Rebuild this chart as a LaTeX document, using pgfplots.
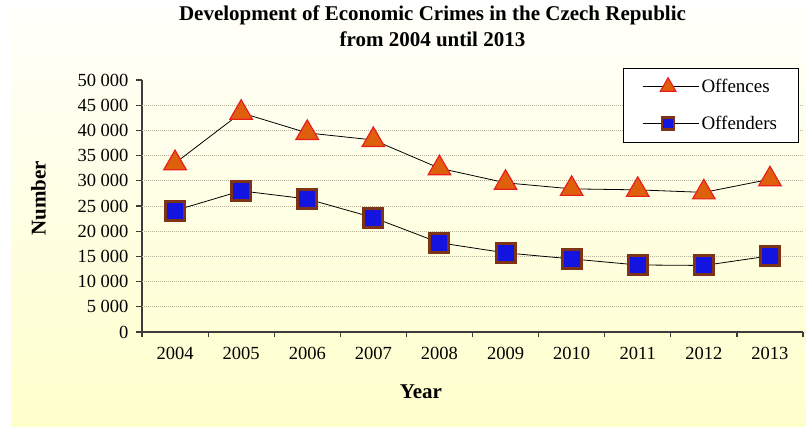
\documentclass[border=0pt]{standalone}
\usepackage{pgfplots}
\pgfplotsset{compat=1.18}
\usepackage{fontspec}
\setmainfont{Liberation Serif}

\definecolor{bgtop}{RGB}{255,255,250}
\definecolor{bgbot}{RGB}{255,255,204}
\definecolor{gridc}{RGB}{185,178,155}
\definecolor{axisc}{RGB}{60,60,60}
\definecolor{trifill}{RGB}{222,96,12}
\definecolor{triedge}{RGB}{235,30,30}
\definecolor{sqfill}{RGB}{20,20,225}
\definecolor{sqedge}{RGB}{125,52,22}

\begin{document}
\begin{tikzpicture}
% page and chart area background
\useasboundingbox (0pt,0pt) rectangle (806pt,427pt);
\fill[white] (0pt,0pt) rectangle (806pt,427pt);
\shade[top color=bgtop, bottom color=bgbot] (11pt,0pt) rectangle (806pt,419pt);

\node[anchor=base, font=\fontsize{21}{25}\selectfont\bfseries] at (432.5pt,406pt)
  {Development of Economic Crimes in the Czech Republic};
\node[anchor=base, font=\fontsize{21}{25}\selectfont\bfseries] at (432.5pt,380pt)
  {from 2004 until 2013};

\begin{axis}[
    at={(142pt,95pt)}, anchor=south west,
    width=661pt, height=252pt, scale only axis,
    xmin=-0.5, xmax=9.5, ymin=0, ymax=50000,
    scaled y ticks=false,
    axis lines*=left,
    axis line style={axisc, line width=1.2pt},
    tick style={axisc, line width=1.2pt},
    tick align=outside,
    major tick length=6pt, minor tick length=5pt,
    xtick={0,...,9},
    xticklabels={2004,2005,2006,2007,2008,2009,2010,2011,2012,2013},
    major x tick style={draw=none},
    minor xtick={-0.5,0.5,...,9.5},
    ytick={0,5000,...,50000},
    yticklabels={0,5 000,10 000,15 000,20 000,25 000,30 000,35 000,40 000,45 000,50 000},
    extra y ticks={5000,10000,...,45000},
    extra y tick labels={},
    extra y tick style={grid=major, major tick length=0pt},
    major grid style={gridc, dash pattern=on 1pt off 1pt, line width=0.8pt},
    ticklabel style={font=\fontsize{18.5}{22}\selectfont},
    xticklabel style={yshift=-6pt},
    yticklabel style={xshift=-4pt},
    xlabel={Year},
    ylabel={Number},
    xlabel style={font=\fontsize{21}{25}\selectfont\bfseries,
      at={(axis description cs:0.422,-0.238)}, anchor=center},
    ylabel style={font=\fontsize{21}{25}\selectfont\bfseries,
      at={(axis description cs:-0.1566,0.530)}, anchor=center},
    legend style={at={(axis description cs:0.728,1.048)}, anchor=north west,
      draw=black, line width=1pt, fill=white,
      font=\fontsize{19}{22}\selectfont,
      inner xsep=19pt, inner ysep=9pt, row sep=18pt},
    legend cell align=left,
    legend image code/.code={
      \path (0pt,0pt) -- (56pt,0pt);
      \draw[mark repeat=2,mark phase=2,#1]
        plot coordinates {(0pt,0pt) (25pt,0pt) (50pt,0pt)};},
]
\addlegendimage{black, line width=0.8pt, mark=triangle*, mark size=9pt,
  mark options={fill=trifill, draw=triedge, line width=1.2pt}}
\addlegendentry{Offences}
\addlegendimage{black, line width=0.8pt, mark=square*, mark size=6pt,
  mark options={fill=sqfill, draw=sqedge, line width=2.5pt}}
\addlegendentry{Offenders}

\addplot[forget plot, black, line width=0.8pt, mark=triangle*, mark size=13pt,
  mark options={fill=trifill, draw=triedge, line width=1.2pt}]
  coordinates {(0,33500) (1,43500) (2,39500) (3,38100) (4,32500)
               (5,29600) (6,28400) (7,28200) (8,27700) (9,30300)};
\addplot[forget plot, black, line width=0.8pt, mark=square*, mark size=9.5pt,
  mark options={fill=sqfill, draw=sqedge, line width=3pt}]
  coordinates {(0,24100) (1,28000) (2,26400) (3,22700) (4,17700)
               (5,15700) (6,14500) (7,13300) (8,13200) (9,15100)};
\end{axis}
\end{tikzpicture}
\end{document}
